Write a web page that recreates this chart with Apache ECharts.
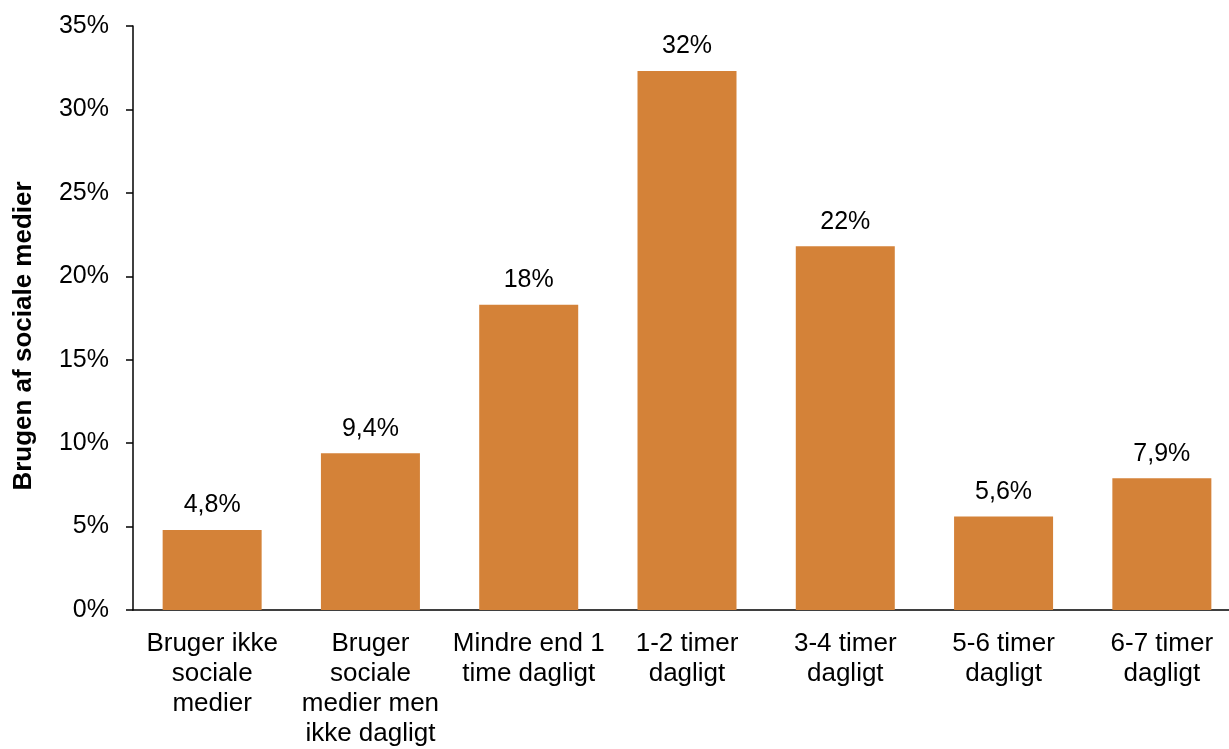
<!DOCTYPE html>
<html>
<head>
<meta charset="utf-8">
<script src="https://cdn.jsdelivr.net/npm/echarts@6/dist/echarts.min.js"></script>
<style>
html,body{margin:0;padding:0;background:#fff;overflow:hidden;width:1229px;height:749px;}
#main{width:1241px;height:749px;}
</style>
</head>
<body>
<div id="main"></div>
<script>
const categories = [
  "Bruger ikke\nsociale\nmedier",
  "Bruger\nsociale\nmedier men\nikke dagligt",
  "Mindre end 1\ntime dagligt",
  "1-2 timer\ndagligt",
  "3-4 timer\ndagligt",
  "5-6 timer\ndagligt",
  "6-7 timer\ndagligt"
];
const values = [4.8, 9.4, 18.3, 32.3, 21.8, 5.6, 7.9];
const yTicks = [0, 5, 10, 15, 20, 25, 30, 35];
const yTitle = "Brugen af sociale medier";

const FONT = '"Liberation Sans", Arial, sans-serif';
const chart = echarts.init(document.getElementById('main'), null, {renderer: 'canvas', width: 1241, height: 749});

function fmt(v) {
  if (v >= 10) return Math.round(v) + '%';
  return v.toFixed(1).replace('.', ',') + '%';
}

chart.setOption({
  animation: false,
  backgroundColor: '#ffffff',
  grid: {left: 133, top: 26, width: 1108, height: 587, containLabel: false},
  xAxis: {
    type: 'category',
    data: categories,
    axisLine: {show: true, lineStyle: {color: '#000', width: 1.5}},
    axisTick: {show: false},
    axisLabel: {
      interval: 0, margin: 19, color: '#000',
      fontFamily: FONT, fontSize: 26, lineHeight: 30, align: 'center'
    }
  },
  yAxis: {
    type: 'value',
    min: yTicks[0], max: yTicks[yTicks.length - 1], interval: 5,
    axisLine: {show: true, lineStyle: {color: '#000', width: 1.5}},
    axisTick: {show: true, length: 7, lineStyle: {color: '#000', width: 1.5}},
    splitLine: {show: false},
    axisLabel: {
      margin: 24, color: '#000', fontFamily: FONT, fontSize: 25,
      formatter: v => v + '%'
    }
  },
  graphic: [{
    type: 'text',
    x: 24, y: 336,
    rotation: Math.PI / 2,
    style: {
      text: yTitle, fill: '#000', font: 'bold 26px ' + FONT,
      align: 'center', verticalAlign: 'middle'
    }
  }],
  series: [{
    type: 'bar',
    data: values,
    barWidth: 99,
    itemStyle: {color: '#D48238'},
    label: {
      show: true, position: 'top', distance: 12, color: '#000',
      fontFamily: FONT, fontSize: 25,
      formatter: p => fmt(p.value)
    }
  }]
});
</script>
</body>
</html>
